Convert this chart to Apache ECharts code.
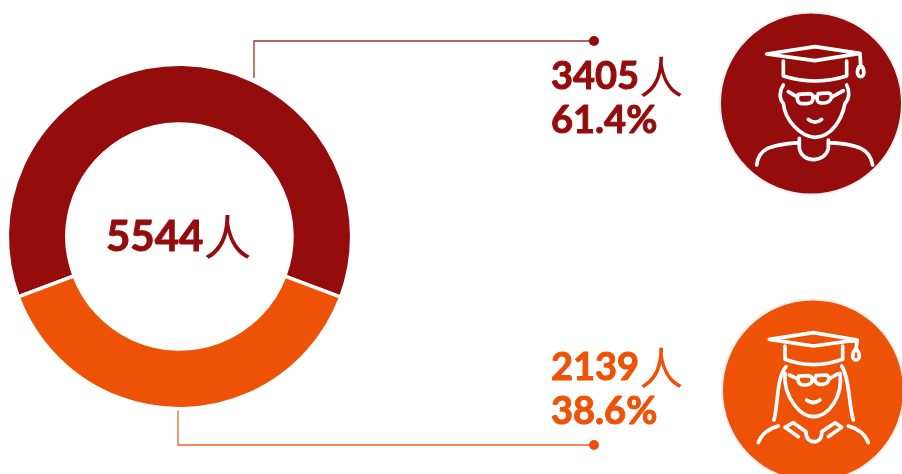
<!DOCTYPE html>
<html><head><meta charset="utf-8">
<style>html,body{margin:0;padding:0;background:#fff}#c{width:902px;height:474px}</style>
<script src="https://cdn.jsdelivr.net/npm/echarts@6/dist/echarts.min.js"></script>
</head><body><div id="c"></div>
<script>
const categories = ['男', '女'];
const counts = [3405, 2139];
const shares = ['61.4%', '38.6%'];
const total = 5544;
const unit = '人';
const colors = ['#950C0C', '#EE5207'];

const malePath = 'M200 162L345 140L480 160L345 182ZM250 183L250 228Q345 258 440 228L440 183M480 160L482 195C470 205 468 230 482 230C496 230 494 205 482 195ZM250 255C240 270 235 295 250 310C255 360 300 410 345 412C395 410 425 360 435 310C450 295 448 270 440 255M265 275L290 290M430 272L398 290M342 292Q347 288 352 290M295 283L330 281Q342 283 338 300Q335 310 320 311L305 311Q292 310 292 295ZM355 281L385 279Q398 282 393 296Q388 308 372 309L362 309Q348 306 352 290ZM325 358Q345 375 365 358M170 495C175 450 200 435 298 428M298 415L298 445C305 490 375 490 385 445L385 420M385 428C480 432 510 450 518 495';
const femalePath = 'M208 148L340 128L472 150L340 168ZM255 168L255 208Q340 240 428 208L428 168M472 150L468 176C456 188 454 210 468 210C482 210 480 188 468 176ZM258 230C230 260 235 340 222 390M425 228C450 270 445 340 460 390M255 250C250 320 300 380 340 380C385 380 430 320 420 250M268 255L290 265M412 252L392 264M296 258L325 257Q340 260 336 274Q332 284 318 285L308 285Q296 283 294 270ZM348 257L378 255Q390 258 386 270Q382 282 368 283L358 283Q346 281 344 268ZM320 330Q340 345 360 330M175 458C185 430 210 415 235 408M445 408C470 415 495 430 505 458M295 440L255 412L280 398L318 425C315 465 370 465 365 425L405 398L425 412L385 440';

echarts.graphic.registerShape('maleIcon', echarts.graphic.extendPath(malePath));
echarts.graphic.registerShape('femaleIcon', echarts.graphic.extendPath(femalePath));

function block(x, y, i) {
  return {
    type: 'text', x: x, y: y,
    style: {
      text: '{n|' + counts[i] + '}{u|' + unit + '}\n{n|' + shares[i] + '}',
      rich: {
        n: { font: 'bold 38px Lato', fill: colors[i], lineHeight: 44, stroke: colors[i], lineWidth: 1 },
        u: { font: '44px "Noto Sans CJK SC"', fill: colors[i], lineHeight: 44 }
      }
    }
  };
}
function icon(cx, cy, ox, oy, shapeType, color, halo) {
  return [
    { type: 'circle', shape: { cx: cx, cy: cy, r: 91 },
      style: { fill: color, stroke: halo, lineWidth: 2 } },
    { type: shapeType, x: ox, y: oy, scaleX: 1/3, scaleY: 1/3, shape: {},
      style: { fill: null, stroke: '#fff', lineWidth: 11, lineCap: 'round', lineJoin: 'round' } }
  ];
}

const chart = echarts.init(document.getElementById('c'), null, { renderer: 'canvas' });
chart.setOption({
  animation: false,
  series: [{
    type: 'pie',
    center: [179.5, 236.5],
    radius: [112.5, 172.2],
    startAngle: 200.5,
    clockwise: true,
    label: { show: false },
    labelLine: { show: false },
    itemStyle: { borderColor: '#fff', borderWidth: 3.5 },
    emphasis: { disabled: true },
    data: categories.map((name, i) => ({ name: name, value: counts[i], itemStyle: { color: colors[i] } }))
  }],
  graphic: [
    { type: 'polyline', shape: { points: [[254, 78], [254, 41], [594, 41]] },
      style: { fill: null, stroke: '#A02A2C', lineWidth: 1.3 } },
    { type: 'circle', shape: { cx: 594, cy: 41, r: 5 }, style: { fill: colors[0] } },
    { type: 'polyline', shape: { points: [[178, 407], [178, 445], [594, 445]] },
      style: { fill: null, stroke: '#EE6220', lineWidth: 1.3 } },
    { type: 'circle', shape: { cx: 594, cy: 445, r: 5 }, style: { fill: colors[1] } },
    { type: 'text', x: 106, y: 209, style: {
      text: '{n|' + total + '}{u|' + unit + '}',
      rich: {
        n: { font: 'bold 42px Lato', fill: colors[0], lineHeight: 56, stroke: colors[0], lineWidth: 1 },
        u: { font: '48px "Noto Sans CJK SC"', fill: colors[0], lineHeight: 56 }
      } } },
    block(551, 55, 0),
    block(551, 346, 1),
    ...icon(811, 103.5, 700, 0, 'maleIcon', colors[0], '#f4eeee'),
    ...icon(813, 390.5, 700, 290, 'femaleIcon', colors[1], '#eeeeee')
  ]
});
</script></body></html>
